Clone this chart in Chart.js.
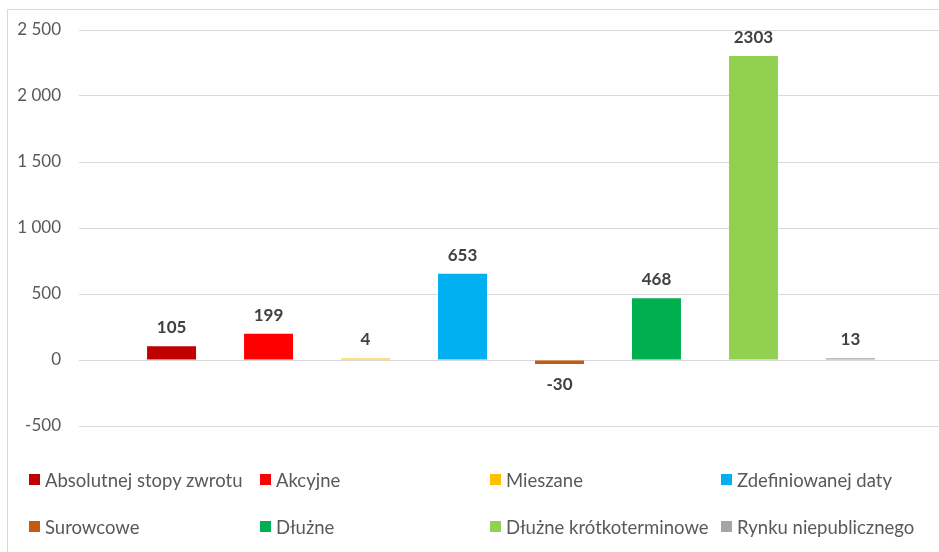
<!DOCTYPE html>
<html>
<head>
<meta charset="utf-8">
<script src="https://cdn.jsdelivr.net/npm/chart.js@4.4.1/dist/chart.umd.min.js"></script>
<style>
  html, body { margin: 0; padding: 0; background: #fff; overflow: hidden; }
  #wrap { position: relative; width: 939px; height: 552px; overflow: hidden; }
  #frame { position: absolute; left: 7px; top: 9px; width: 1000px; height: 600px; border: 1px solid #d9d9d9; box-sizing: border-box; }
  #cv { position: absolute; left: 0; top: 0; }
  .lg { position: absolute; font-family: Lato, "Open Sans", sans-serif; font-size: 18.5px; color: #595959; white-space: nowrap; line-height: 22px; }
  .lg i { position: absolute; left: 0; top: 5px; width: 11px; height: 11px; }
  .lg span { position: absolute; left: 16px; top: 0; }
</style>
</head>
<body>
<div id="wrap">
  <div id="frame"></div>
  <canvas id="cv" width="960" height="552"></canvas>
  <div id="legend"></div>
</div>
<script>
const categories = ["Wartość"];
const seriesNames = ["Absolutnej stopy zwrotu", "Akcyjne", "Mieszane", "Zdefiniowanej daty", "Surowcowe", "Dłużne", "Dłużne krótkoterminowe", "Rynku niepublicznego"];
const seriesValues = [105, 199, 4, 653, -30, 468, 2303, 13];
const seriesColors = ["#C00000", "#FF0000", "#FFC000", "#00B0F0", "#C55A11", "#00B050", "#92D050", "#A5A5A5"];
const yTicks = [-500, 0, 500, 1000, 1500, 2000, 2500];

function fmt(v) {
  const s = Math.abs(v).toString().replace(/\B(?=(\d{3})+(?!\d))/g, " ");
  return (v < 0 ? "-" : "") + s;
}

const labelPlugin = {
  id: 'valueLabels',
  afterDatasetsDraw(chart) {
    const ctx = chart.ctx;
    ctx.save();
    ctx.font = 'bold 17px Lato, "Open Sans", sans-serif';
    ctx.fillStyle = '#404040';
    ctx.textAlign = 'center';
    chart.data.datasets.forEach((ds, i) => {
      const meta = chart.getDatasetMeta(i);
      meta.data.forEach((bar, j) => {
        const v = ds.data[j];
        if (v >= 0) {
          ctx.textBaseline = 'bottom';
          ctx.fillText(String(v), bar.x, bar.y - 10);
        } else {
          ctx.textBaseline = 'top';
          ctx.fillText(String(v), bar.x, bar.y + 12);
        }
      });
    });
    ctx.restore();
  }
};

const datasets = seriesNames.map((name, i) => ({
  label: name,
  data: [seriesValues[i]],
  backgroundColor: seriesColors[i],
  borderWidth: 0,
  minBarLength: 1.5,
  categoryPercentage: 0.898,
  barPercentage: 0.505
}));

new Chart(document.getElementById('cv'), {
  type: 'bar',
  data: { labels: categories, datasets },
  options: {
    responsive: false,
    animation: false,
    layout: { padding: { top: 30, right: 17, bottom: 126, left: 0 } },
    plugins: { legend: { display: false }, tooltip: { enabled: false } },
    scales: {
      x: { display: false },
      y: {
        min: -500, max: 2500,
        afterBuildTicks(scale) { scale.ticks = yTicks.map(v => ({ value: v })); },
        afterFit(scale) { scale.width = 79; },
        grid: { color: '#d9d9d9', drawTicks: false, lineWidth: 1 },
        border: { display: false },
        ticks: {
          padding: 18,
          color: '#595959',
          font: { family: 'Lato, "Open Sans", sans-serif', size: 17 },
          callback: (v) => fmt(v)
        }
      }
    }
  },
  plugins: [labelPlugin]
});

// legend grid
const lg = document.getElementById('legend');
const colX = [29, 260, 490, 721];
const rowY = [469, 516];
seriesNames.forEach((name, i) => {
  const d = document.createElement('div');
  d.className = 'lg';
  d.style.left = colX[i % 4] + 'px';
  d.style.top = rowY[Math.floor(i / 4)] + 'px';
  d.innerHTML = '<i style="background:' + seriesColors[i] + '"></i><span>' + name + '</span>';
  lg.appendChild(d);
});
</script>
</body>
</html>
